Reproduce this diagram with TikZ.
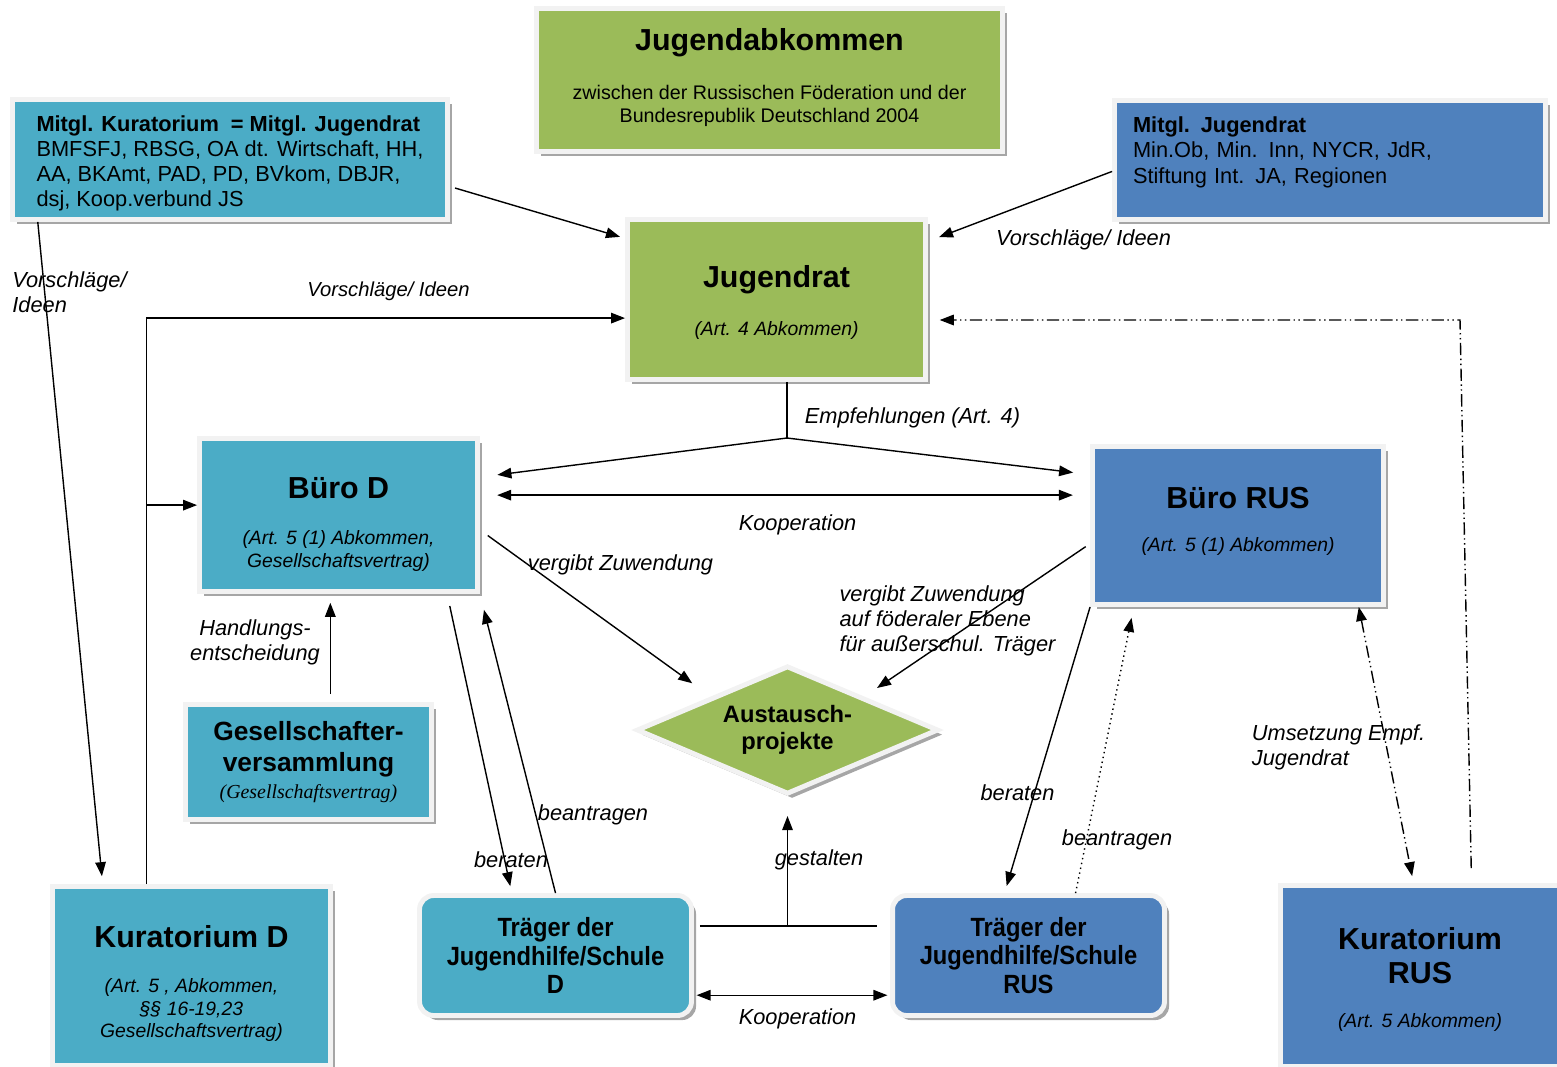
\documentclass[tikz,border=0pt]{standalone}
\usepackage{fontspec}
\setmainfont{Liberation Sans}
\newfontfamily\narrowfont[FakeStretch=0.9]{Liberation Sans}
\newfontfamily\timesfont{Liberation Serif}
\usetikzlibrary{shapes.geometric,arrows.meta,shadows,positioning}
\definecolor{jgreen}{HTML}{9BBB59}
\definecolor{jteal}{HTML}{4BACC6}
\definecolor{jblue}{HTML}{4F81BD}
\definecolor{jframe}{HTML}{F2F2F2}
\newcommand{\boxtitle}{\normalfont\fontsize{17.3}{20}\selectfont\bfseries}
\newcommand{\boxsub}{\normalfont\fontsize{11}{13}\selectfont\itshape}
\newcommand{\boxbody}{\normalfont\fontsize{12.4}{14.3}\selectfont}
\tikzstyle{panel} = [rectangle, draw=jframe, line width=2.8pt, align=center, inner sep=0pt, drop shadow={shadow xshift=2.6pt, shadow yshift=-2.6pt, fill=black!35, opacity=1}]
\tikzstyle{greenpanel} = [panel, fill=jgreen]
\tikzstyle{tealpanel} = [panel, fill=jteal]
\tikzstyle{bluepanel} = [panel, fill=jblue]
\tikzstyle{traeger} = [rounded corners=8pt, font=\narrowfont\bfseries\fontsize{15}{16}\selectfont]
\tikzstyle{lbl} = [font=\itshape\fontsize{12.4}{14.2}\selectfont, align=left, inner sep=0pt]
\tikzstyle{arrow} = [line width=0.8pt, ->, >={Stealth[length=8pt,width=6pt,inset=0pt]}]
\tikzstyle{dblarrow} = [arrow, <->]
\tikzstyle{plain} = [line width=0.8pt]
\tikzstyle{dashdotdot} = [dash pattern=on 7pt off 2pt on 0.8pt off 2pt on 0.8pt off 2pt]

\begin{document}
\begin{tikzpicture}[x=0.02cm, y=-0.02cm]
	\useasboundingbox (0,0) rectangle (1557,1066);
	% boxes
	\node (abk) [greenpanel, font=\fontsize{11.2}{13}\selectfont, minimum width=9.32cm, minimum height=2.86cm] at (769.5,80) {\boxtitle Jugendabkommen\\[15pt]zwischen der Russischen Föderation und der\\Bundesrepublik Deutschland 2004\\[-8pt]\mbox{}};
	\node (mkd) [tealpanel, font=\boxbody, align=left, minimum width=8.7cm, minimum height=2.4cm] at (230,159.5) {\mbox{}\\[-0.7pt]\bfseries Mitgl. Kuratorium\ \ = Mitgl. Jugendrat\\BMFSFJ, RBSG, OA dt. Wirtschaft, HH,\\AA, BKAmt, PAD, PD, BVkom, DBJR,\\dsj, Koop.verbund JS};
	\node (mjr) [bluepanel, font=\boxbody, align=left, text width=7.88cm, minimum width=8.62cm, minimum height=2.38cm] at (1330,160) {\bfseries Mitgl. Jugendrat\\\mdseries Min.Ob, Min. Inn, NYCR, JdR,\\Stiftung Int. JA, Regionen\\[-3pt]\mbox{}};
	\node (jr) [greenpanel, font=\boxsub, minimum width=5.96cm, minimum height=3.2cm] at (776.5,299.5) {\mbox{}\\[3pt]\boxtitle Jugendrat\\[14.5pt](Art. 4 Abkommen)};
	\node (bd) [tealpanel, font=\boxsub, minimum width=5.56cm, minimum height=3.06cm] at (338.5,515) {\mbox{}\\[9.7pt]\boxtitle Büro D\\[13pt](Art. 5 (1) Abkommen,\\Gesellschaftsvertrag)};
	\node (br) [bluepanel, font=\boxsub, minimum width=5.82cm, minimum height=3.16cm] at (1238,525.5) {\boxtitle Büro RUS\\[12pt](Art. 5 (1) Abkommen)\\[-6pt]\mbox{}};
	\node (gv) [tealpanel, font=\fontsize{15}{17.6}\selectfont\bfseries, minimum width=4.92cm, minimum height=2.3cm] at (308.5,762) {Gesellschafter-\\versammlung\\[-2pt]\normalfont\timesfont\itshape\fontsize{11.3}{13.6}\selectfont (Gesellschaftsvertrag)};
	\node (aus) [greenpanel, diamond, aspect=2.35, font=\fontsize{13.5}{15.3}\selectfont\bfseries, minimum width=6.04cm, minimum height=2.57cm] at (787.5,730) {Austausch-\\projekte};
	\node (kd) [tealpanel, font=\boxsub, minimum width=5.56cm, minimum height=3.58cm] at (191.5,976) {\mbox{}\\[8.5pt]\boxtitle Kuratorium D\\[12.2pt](Art. 5 , Abkommen,\\ §§ 16-19,23\\Gesellschaftsvertrag)};
	\node (kr) [bluepanel, font=\boxsub, minimum width=5.58cm, minimum height=3.62cm] at (1420,976) {\mbox{}\\[3.5pt]\boxtitle Kuratorium\\[6.3pt]\boxtitle RUS\\[12.5pt](Art. 5 Abkommen)};
	\node (td) [tealpanel, traeger, minimum width=5.44cm, minimum height=2.4cm] at (555.5,955.5) {Träger der\\Jugendhilfe/Schule\\D};
	\node (tr) [bluepanel, traeger, minimum width=5.44cm, minimum height=2.4cm] at (1028.5,955.5) {Träger der\\Jugendhilfe/Schule\\RUS};
	% labels
	\node[lbl] (vi1) at (69.5,292.5) {Vorschläge/\\Ideen};
	\node[lbl, font=\itshape\fontsize{11.5}{14}\selectfont] (vi2) at (388.5,291) {Vorschläge/ Ideen};
	\node[lbl] (vi3) at (1083.5,240) {Vorschläge/ Ideen};
	\node[lbl] (empf) at (912.5,418) {Empfehlungen (Art. 4)};
	\node[lbl] (koop1) at (797.5,525) {Kooperation};
	\node[lbl] (zuwd) at (620.5,565) {vergibt Zuwendung};
	\node[lbl] (zuwr) at (947.5,621) {vergibt Zuwendung\\auf föderaler Ebene\\für außerschul. Träger};
	\node[lbl, align=center] (handl) at (255,642) {Handlungs-\\entscheidung};
	\node[lbl] (bean1) at (593,815) {beantragen};
	\node[lbl] (ber1) at (511,860) {beraten};
	\node[lbl] (gest) at (819,860) {gestalten};
	\node[lbl] (ber2) at (1017.5,793) {beraten};
	\node[lbl] (bean2) at (1117,840) {beantragen};
	\node[lbl] (ums) at (1338.5,747) {Umsetzung Empf.\\Jugendrat};
	\node[lbl] (koop2) at (797.5,1019) {Kooperation};
	% connectors
	\draw [arrow, shorten <=3pt, shorten >=3pt] (mkd.-7.4) -- (jr.158.9);
	\draw [arrow, shorten >=6.7pt] (mjr.183.4) -- (jr.21.1);
	\draw [arrow, shorten >=4.5pt] (mkd.198.6) -- (kd.134.8);
	\draw [arrow] (kd.116.8) |- (jr.187.7);
	\draw [arrow] (kd.116.8 |- bd.176.4) -- (bd.176.4);
	\coordinate (split) at (787,438);
	\draw [plain] (jr.south -| split) -- (split);
	\draw [arrow, shorten >=10pt] (split) -- (bd.15);
	\draw [arrow, shorten >=9.7pt] (split) -- (br.161.2);
	\draw [dblarrow, shorten <=9.8pt, shorten >=9.8pt] (bd.8) -- (bd.8 -| br.west);
	\draw [arrow, shorten <=5.5pt, shorten >=13pt] (bd.-6) -- (aus.north west);
	\draw [arrow, shorten <=3pt, shorten >=8.8pt] (br.187.5) -- (aus.north east);
	\draw [arrow, shorten <=7pt, shorten >=4pt] (bd.-36.1) -- (td.125.5);
	\draw [arrow, shorten >=9.3pt] (td.north) -- (bd.south east);
	\draw [arrow, shorten <=4.5pt, shorten >=5pt] (gv.70.3) -- (gv.70.3 |- bd.south);
	\draw [plain, shorten <=3.4pt, shorten >=7.4pt] (td.12) -- (td.12 -| tr.west);
	\coordinate (gmid) at (aus.south |- td.12);
	\draw [arrow, shorten >=11pt] (gmid) -- (aus.south);
	\draw [dblarrow, shorten <=1.5pt, shorten >=1.5pt] (td.-16.7) -- (td.-16.7 -| tr.west);
	\draw [arrow, shorten >=4.2pt] (br.south west) -- (tr.111.4);
	\draw [arrow, dotted, shorten >=6.3pt] (tr.53.4) -- (br.218.4);
	\draw [dblarrow, dashdotdot, shorten >=4pt] (br.-34.9) -- (kr.94.3);
	\coordinate (rcorner) at (1460,320);
	\draw [arrow, dashdotdot, shorten <=8.5pt, shorten >=6.7pt] (kr.61.3) -- (rcorner) -- (rcorner -| jr.east);
\end{tikzpicture}
\end{document}
